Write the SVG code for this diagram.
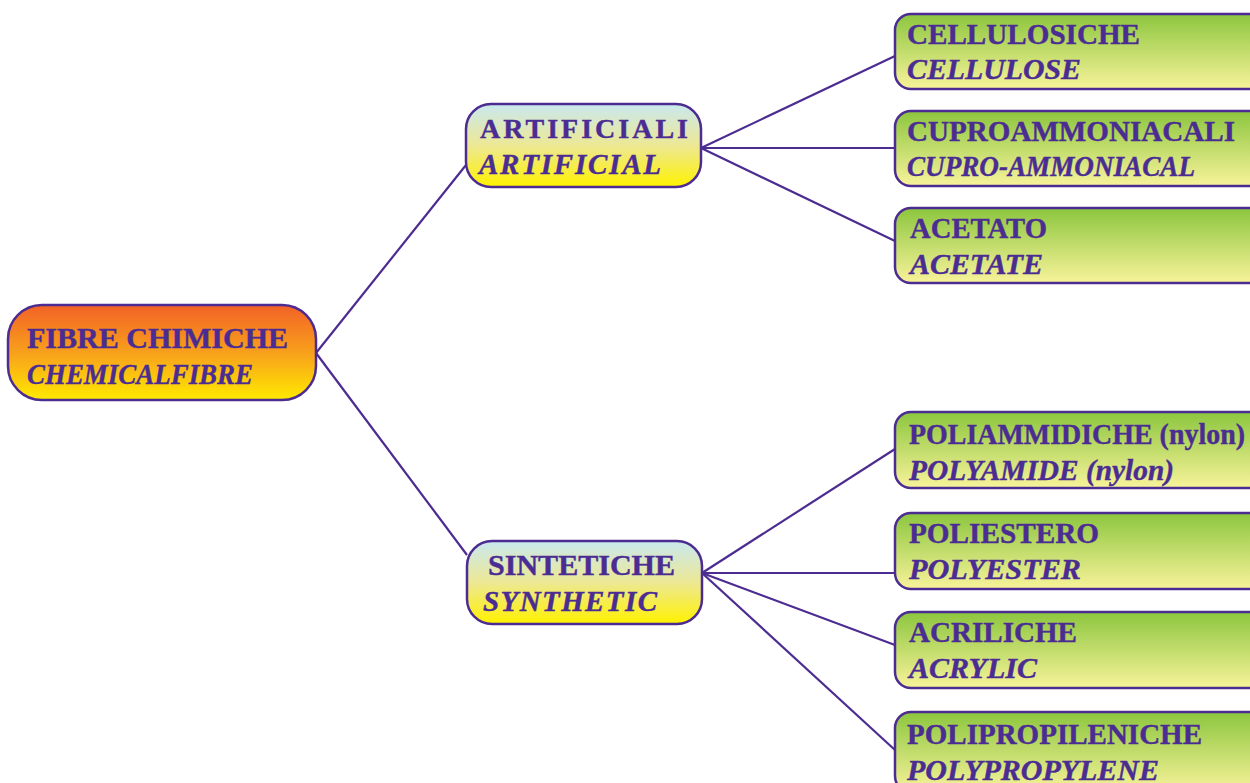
<svg xmlns="http://www.w3.org/2000/svg" width="1250" height="783" viewBox="0 0 1250 783">
<defs>
<linearGradient id="gRoot" x1="0" y1="0" x2="0" y2="1">
<stop offset="0" stop-color="#f26226"/>
<stop offset="0.5" stop-color="#f8a01c"/>
<stop offset="1" stop-color="#ffea00"/>
</linearGradient>
<linearGradient id="gMid" x1="0" y1="0" x2="0" y2="1">
<stop offset="0" stop-color="#c9e8ef"/>
<stop offset="0.5" stop-color="#ede894"/>
<stop offset="1" stop-color="#fff200"/>
</linearGradient>
<linearGradient id="gLeaf" x1="0" y1="0" x2="0" y2="1">
<stop offset="0" stop-color="#8cc63e"/>
<stop offset="1" stop-color="#f8f39a"/>
</linearGradient>
<style>
.box{stroke:#4d2c91;stroke-width:2.5}
.t{font-family:"Liberation Serif","Times New Roman",serif;font-weight:bold;fill:#4b2c92;stroke:#4b2c92;stroke-width:0.4}
.i{font-style:italic}
.conn line{stroke:#4d2c91;stroke-width:2.2}
</style>
</defs>
<rect width="1250" height="783" fill="#ffffff"/>
<g class="conn" id="connectors">
<line x1="316" y1="353" x2="466" y2="165"/>
<line x1="316" y1="353" x2="467" y2="555"/>
<line x1="701" y1="148" x2="895" y2="56"/>
<line x1="701" y1="148" x2="895" y2="148"/>
<line x1="701" y1="148" x2="895" y2="241"/>
<line x1="702" y1="573" x2="895" y2="449"/>
<line x1="702" y1="573" x2="895" y2="573"/>
<line x1="702" y1="573" x2="895" y2="645"/>
<line x1="702" y1="573" x2="895" y2="750"/>
</g>
<g id="root">
<rect class="box" x="8" y="305" width="308" height="95" rx="34" fill="url(#gRoot)"/>
<text class="t" x="27" y="348" font-size="30" textLength="261" lengthAdjust="spacingAndGlyphs">FIBRE CHIMICHE</text>
<text class="t i" x="27" y="384" font-size="30" textLength="226" lengthAdjust="spacingAndGlyphs">CHEMICALFIBRE</text>
</g>
<g id="artificiali">
<rect class="box" x="466" y="104" width="235" height="83" rx="25" fill="url(#gMid)"/>
<text class="t" x="480" y="138" font-size="28" textLength="208" lengthAdjust="spacing">ARTIFICIALI</text>
<text class="t i" x="479" y="174" font-size="29" textLength="182" lengthAdjust="spacing">ARTIFICIAL</text>
</g>
<g id="sintetiche">
<rect class="box" x="467" y="541" width="235" height="83" rx="25" fill="url(#gMid)"/>
<text class="t" x="488" y="575" font-size="29" textLength="187" lengthAdjust="spacingAndGlyphs">SINTETICHE</text>
<text class="t i" x="483" y="611" font-size="29" textLength="174" lengthAdjust="spacing">SYNTHETIC</text>
</g>
<g id="cellulosiche">
<rect class="box" x="895" y="14" width="370" height="75" rx="16" fill="url(#gLeaf)"/>
<text class="t" x="907" y="44" font-size="29" textLength="233" lengthAdjust="spacingAndGlyphs">CELLULOSICHE</text>
<text class="t i" x="907" y="79" font-size="29" textLength="174" lengthAdjust="spacingAndGlyphs">CELLULOSE</text>
</g>
<g id="cuproammoniacali">
<rect class="box" x="895" y="111" width="370" height="75" rx="16" fill="url(#gLeaf)"/>
<text class="t" x="907" y="141" font-size="29" textLength="328" lengthAdjust="spacingAndGlyphs">CUPROAMMONIACALI</text>
<text class="t i" x="907" y="176" font-size="29" textLength="288" lengthAdjust="spacingAndGlyphs">CUPRO-AMMONIACAL</text>
</g>
<g id="acetato">
<rect class="box" x="895" y="208" width="370" height="75" rx="16" fill="url(#gLeaf)"/>
<text class="t" x="910" y="238" font-size="29" textLength="137" lengthAdjust="spacingAndGlyphs">ACETATO</text>
<text class="t i" x="910" y="274" font-size="29" textLength="133" lengthAdjust="spacingAndGlyphs">ACETATE</text>
</g>
<g id="poliammidiche">
<rect class="box" x="895" y="412" width="370" height="76" rx="16" fill="url(#gLeaf)"/>
<text class="t" x="909" y="444" font-size="29" textLength="336" lengthAdjust="spacingAndGlyphs">POLIAMMIDICHE (nylon)</text>
<text class="t i" x="909" y="480" font-size="29" textLength="265" lengthAdjust="spacingAndGlyphs">POLYAMIDE (nylon)</text>
</g>
<g id="poliestero">
<rect class="box" x="895" y="513" width="370" height="76" rx="16" fill="url(#gLeaf)"/>
<text class="t" x="909" y="543" font-size="29" textLength="190" lengthAdjust="spacingAndGlyphs">POLIESTERO</text>
<text class="t i" x="909" y="579" font-size="29" textLength="172" lengthAdjust="spacingAndGlyphs">POLYESTER</text>
</g>
<g id="acriliche">
<rect class="box" x="895" y="612" width="370" height="76" rx="16" fill="url(#gLeaf)"/>
<text class="t" x="909" y="642" font-size="29" textLength="168" lengthAdjust="spacingAndGlyphs">ACRILICHE</text>
<text class="t i" x="909" y="678" font-size="29" textLength="128" lengthAdjust="spacingAndGlyphs">ACRYLIC</text>
</g>
<g id="polipropileniche">
<rect class="box" x="895" y="712" width="370" height="80" rx="16" fill="url(#gLeaf)"/>
<text class="t" x="907" y="744" font-size="29" textLength="295" lengthAdjust="spacingAndGlyphs">POLIPROPILENICHE</text>
<text class="t i" x="907" y="780" font-size="29" textLength="252" lengthAdjust="spacingAndGlyphs">POLYPROPYLENE</text>
</g>
</svg>
